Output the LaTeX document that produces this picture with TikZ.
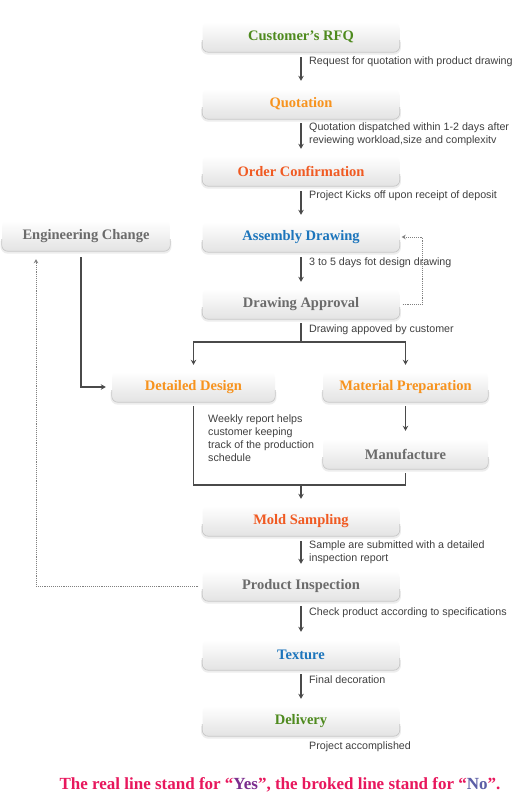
\documentclass[tikz,border=0pt]{standalone}
\usepackage{fontspec}
\setmainfont{Liberation Serif}
\setsansfont{Liberation Sans}
\usetikzlibrary{arrows.meta,calc}
\definecolor{cgreen}{HTML}{4E8A1E}
\definecolor{corange}{HTML}{F7931E}
\definecolor{cred}{HTML}{F05A22}
\definecolor{cblue}{HTML}{1C75BC}
\definecolor{cgray}{HTML}{6B6B6B}
\definecolor{ctext}{HTML}{404040}
\definecolor{cline}{HTML}{4A4A4A}
\definecolor{cnote}{HTML}{E8175D}
\definecolor{cyes}{HTML}{7B2D8E}
\definecolor{cno}{HTML}{5B5EA6}
\begin{document}
\begin{tikzpicture}[x=1pt,y=-1pt,
 stepbox/.style={rectangle, rounded corners=6pt, minimum height=30pt, inner sep=0pt,
   top color=white, bottom color=black!11, font=\fontsize{14.5}{16}\selectfont\bfseries},
 wmain/.style={minimum width=197pt},
 wside/.style={minimum width=165pt},
 note/.style={font=\sffamily\fontsize{10.7}{13.5}\selectfont, text=ctext, anchor=west, inner sep=0pt, align=left},
 arr/.style={draw=cline, line width=1.1pt, -{Stealth[length=5pt,width=5.5pt]}},
 conn/.style={draw=cline, line width=1.1pt},
 dot/.style={draw=black!50, line width=0.9pt, densely dotted, -{Stealth[length=4pt,width=4.5pt]}},
 boxshadow/.style={draw=black!7, line width=2.5pt, rounded corners=6pt},
 boxedge/.style={draw=black!22, line width=0.7pt, rounded corners=6pt}
 ]
\useasboundingbox[fill=white] (0,0) rectangle (523,807);

% boxes
\node[stepbox,wmain,text=cgreen] (rfq) at (301,37) {Customer’s RFQ};
\node[stepbox,wmain,text=corange] (quo) at (301,104) {Quotation};
\node[stepbox,wmain,text=cred] (oc) at (301,171) {Order Confirmation};
\node[stepbox,wmain,text=cblue] (ad) at (301,237) {Assembly Drawing};
\node[stepbox,wmain,text=cgray] (da) at (301,304) {Drawing Approval};
\node[stepbox,minimum width=168pt,text=cgray] (ec) at (86,236) {Engineering Change};
\node[stepbox,minimum width=163pt,text=corange] (dd) at (193.5,387) {Detailed Design};
\node[stepbox,wside,text=corange] (mp) at (405.5,387) {Material Preparation};
\node[stepbox,wside,text=cgray] (mf) at (405.5,454) {Manufacture};
\node[stepbox,wmain,text=cred] (ms) at (301,521) {Mold Sampling};
\node[stepbox,wmain,text=cgray] (pi) at (301,586) {Product Inspection};
\node[stepbox,wmain,text=cblue] (tx) at (301,655) {Texture};
\node[stepbox,wmain,text=cgreen] (dl) at (301,721) {Delivery};

\foreach \n in {rfq,quo,oc,ad,da,ec,dd,mp,mf,ms,pi,tx,dl}{
  \draw[boxshadow] ([yshift=10pt]\n.south west) -- ([yshift=-1.2pt]\n.south west) -- ([yshift=-1.2pt]\n.south east) -- ([yshift=10pt]\n.south east);
  \draw[boxedge] ([yshift=12pt]\n.south west) -- (\n.south west) -- (\n.south east) -- ([yshift=12pt]\n.south east);
}

% main flow
\draw[arr] ([yshift=-5pt]rfq.south) -- ([yshift=8pt]quo.north);
\draw[arr] ([yshift=-4pt]quo.south) -- ([yshift=7pt]oc.north);
\draw[arr] ([yshift=-5pt]oc.south) -- ([yshift=7pt]ad.north);
\draw[arr] ([yshift=-5pt]ad.south) -- ([yshift=7pt]da.north);

\coordinate (split) at (301,342);
\draw[conn] ([yshift=-4pt]da.south) -- (split);
\draw[arr] (split) -| ([yshift=7pt]dd.north);
\draw[arr] (split) -| ([yshift=7pt]mp.north);
\draw[arr] ([yshift=-4pt]mp.south) -- ([yshift=8pt]mf.north);

\coordinate (merge) at (301,485);
\draw[conn] ([yshift=-4pt]dd.south) |- (merge) -| ([yshift=-4pt]mf.south);
\draw[arr] (merge) -- ([yshift=7pt]ms.north);

\draw[arr] ([yshift=-5pt]ms.south) -- ([yshift=7pt]pi.north);
\draw[arr] ([yshift=-5pt]pi.south) -- ([yshift=8pt]tx.north);
\draw[arr] ([yshift=-4pt]tx.south) -- ([yshift=7pt]dl.north);

% engineering change
\draw[arr] ([xshift=-5pt,yshift=-6pt]ec.south) |- ([xshift=-6pt]dd.west);
\draw[dot] ([xshift=-4pt]pi.west) -| ([xshift=-50pt,yshift=-8pt]ec.south);
\draw[dot] ([xshift=3pt]da.east) -- ++(20,0) |- ([xshift=2pt]ad.east);

% notes
\node[note] (t1) at (309,62) {Request for quotation with product drawing};
\node[note] (t2) at (309,134) {Quotation dispatched within 1-2 days after\\reviewing workload,size and complexitv};
\node[note] (t3) at (309,196) {Project Kicks off upon receipt of deposit};
\node[note] (t4) at (309,263) {3 to 5 days fot design drawing};
\node[note] (t5) at (309,330) {Drawing appoved by customer};
\node[note,font=\sffamily\fontsize{10.7}{13}\selectfont] (t6) at (208,438.5) {Weekly report helps\\customer keeping\\track of the production\\schedule};
\node[note,font=\sffamily\fontsize{10.7}{13}\selectfont] (t7) at (309,552.5) {Sample are submitted with a detailed\\inspection report};
\node[note] (t8) at (309,613) {Check product according to specifications};
\node[note] (t9) at (309,680) {Final decoration};
\node[note] (t10) at (309,747) {Project accomplished};

\node[font=\fontsize{17}{20}\selectfont\bfseries, text=cnote, inner sep=0pt] (legend) at (280,785)
  {The real line stand for “\textcolor{cyes}{Yes}”, the broked line stand for “\textcolor{cno}{No}”.};
\end{tikzpicture}
\end{document}
